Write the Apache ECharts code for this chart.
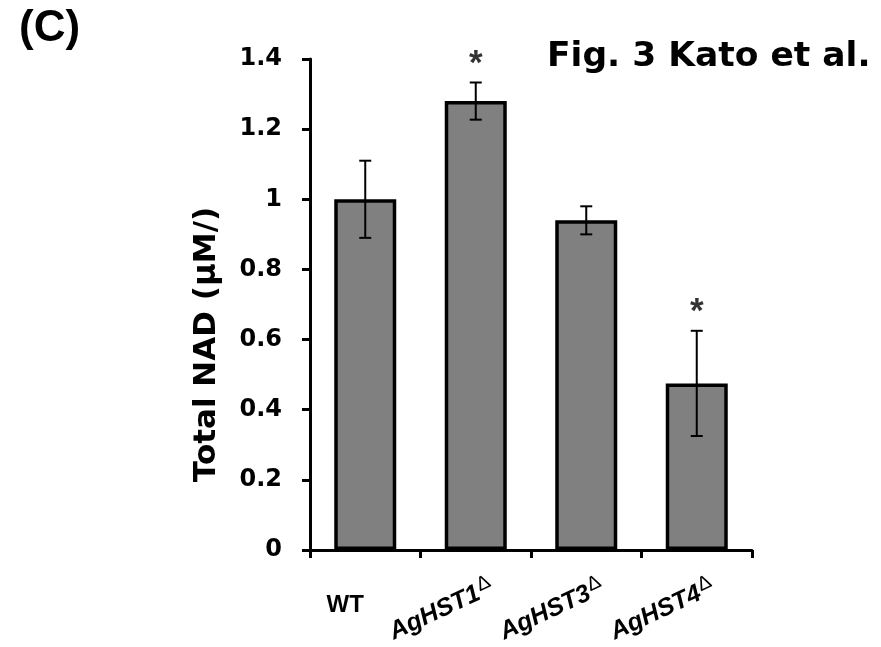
<!DOCTYPE html>
<html><head><meta charset="utf-8">
<script src="https://cdn.jsdelivr.net/npm/echarts@6/dist/echarts.min.js"></script>
<style>html,body{margin:0;padding:0;background:#fff}#c{width:881px;height:647px}</style>
</head><body><div id="c"></div>
<script>
const categories = ['WT', 'AgHST1', 'AgHST3', 'AgHST4'];
const values = [1.0, 1.28, 0.94, 0.475];
const errors = [0.11, 0.053, 0.04, 0.15];
const significant = [false, true, false, true];
const yTicks = [0, 0.2, 0.4, 0.6, 0.8, 1, 1.2, 1.4];

const ARIAL = '"Liberation Sans", Arial, sans-serif';
const WIDE = '"DejaVu Sans", sans-serif';
const chart = echarts.init(document.getElementById('c'));
const errData = categories.map((c, i) => [i, values[i] - errors[i], values[i] + errors[i]]);
const starData = categories.map((c, i) => significant[i] ? [i, values[i] + errors[i]] : null).filter(d => d);

chart.setOption({
  animation: false,
  backgroundColor: '#fff',
  title: [
    { text: '(C)', left: 14, top: 2, textStyle: { fontFamily: ARIAL, fontWeight: 'bold', fontSize: 44, color: '#000' } },
    { text: 'Fig. 3 Kato et al.', left: 542, top: 35, textStyle: { fontFamily: WIDE, fontWeight: 'bold', fontSize: 34.5, color: '#000' } }
  ],
  grid: { left: 310, right: 129, top: 59, bottom: 97 },
  xAxis: [{
    type: 'category', data: categories, position: 'bottom',
    axisLine: { show: true, lineStyle: { color: '#000', width: 3 } },
    axisTick: { show: true, inside: false, length: 8, alignWithLabel: false, lineStyle: { color: '#000', width: 3 } },
    axisLabel: {
      interval: 0, rotate: 25, margin: 44, padding: [0, -18, 0, 0],
      formatter: v => v === 'WT' ? '' : '{n|' + v + '}{d|\u0394}',
      rich: {
        n: { fontFamily: ARIAL, fontWeight: 'bold', fontStyle: 'italic', fontSize: 25, color: '#000' },
        d: { fontFamily: ARIAL, fontWeight: 'normal', fontSize: 20, color: '#000', padding: [0, 0, 12, 1] }
      }
    }
  }, {
    type: 'category', data: categories, position: 'bottom',
    axisLine: { show: false }, axisTick: { show: false },
    axisLabel: {
      interval: 0, margin: 43, padding: [0, 40, 0, 0],
      formatter: v => v === 'WT' ? v : '',
      fontFamily: ARIAL, fontWeight: 'bold', fontSize: 24, color: '#000'
    }
  }],
  yAxis: {
    type: 'value', min: 0, max: 1.4, interval: 0.2,
    name: 'Total NAD (\u03bcM/)', nameLocation: 'middle', nameGap: 88,
    nameTextStyle: { fontFamily: WIDE, fontWeight: 'bold', fontSize: 31, color: '#000', padding: [0, 80, 0, 0] },
    axisLine: { show: true, lineStyle: { color: '#000', width: 3 } },
    axisTick: { show: true, length: 8, lineStyle: { color: '#000', width: 3 } },
    splitLine: { show: false },
    axisLabel: {
      margin: 28, fontFamily: WIDE, fontWeight: 'bold', fontSize: 24, color: '#000',
      formatter: v => String(Math.round(v * 10) / 10)
    }
  },
  series: [{
    type: 'bar', data: values, barWidth: 62,
    itemStyle: { color: '#808080', borderColor: '#000', borderWidth: 3.5 }
  }, {
    type: 'custom', data: errData, z: 5,
    renderItem: (params, api) => {
      const x = api.value(0);
      const lo = api.coord([x, api.value(1)]);
      const hi = api.coord([x, api.value(2)]);
      const hw = 6;
      const st = { stroke: '#000', lineWidth: 2 };
      return { type: 'group', children: [
        { type: 'line', shape: { x1: lo[0], y1: lo[1], x2: hi[0], y2: hi[1] }, style: st },
        { type: 'line', shape: { x1: lo[0] - hw, y1: lo[1], x2: lo[0] + hw, y2: lo[1] }, style: st },
        { type: 'line', shape: { x1: hi[0] - hw, y1: hi[1], x2: hi[0] + hw, y2: hi[1] }, style: st }
      ] };
    }
  }, {
    type: 'scatter', data: starData, symbolSize: 0, z: 6,
    label: { show: true, position: 'top', distance: 1, formatter: '*', fontFamily: ARIAL, fontWeight: 'bold', fontSize: 35, color: '#000' }
  }]
});
</script></body></html>
